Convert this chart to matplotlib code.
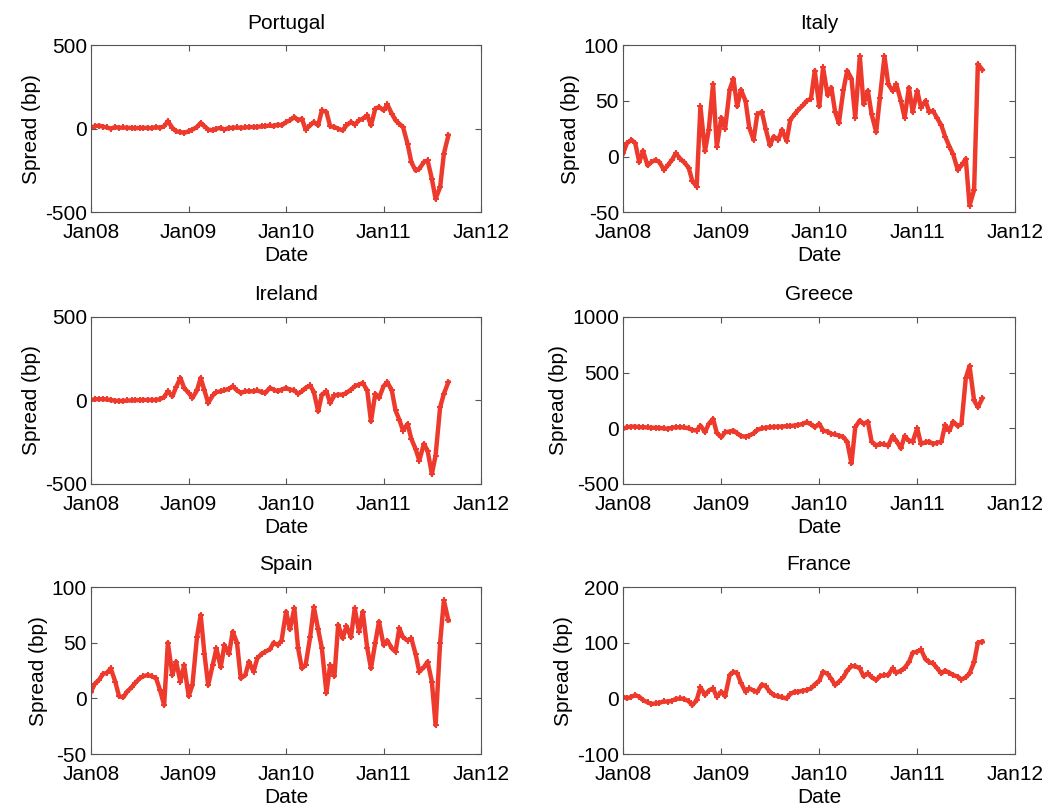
import matplotlib
matplotlib.use('Agg')
import matplotlib.pyplot as plt
import matplotlib.dates as mdates
import pandas as pd

plt.rcParams['font.family'] = ['Liberation Sans', 'DejaVu Sans']
plt.rcParams['axes.unicode_minus'] = False

# semi-monthly observations, Jan 2008 - Sep 2011
dates = pd.date_range('2008-01-01', '2011-09-01', freq='SMS')

portugal = [5, 15, 18, 12, 8, 0, 10, 5, 8, 5, 5, 3, 5, 5, 5, 3, 10, 5, 15, 45,
            5, -15, -20, -25, -15, -5, 10, 35, 15, -5, -10, 0, 5, -5, 5, 5, 8, 5, 8, 10,
            10, 10, 15, 15, 20, 15, 25, 20, 40, 50, 70, 50, 60, -5, 20, 40, 20, 110, 100, 15,
            10, 0, -10, 20, 40, 25, 50, 60, 80, 20, 120, 130, 110, 145, 90, 50, 30, 10, -90, -200,
            -250, -240, -200, -190, -300, -420, -350, -150, -40]

italy = [3, 12, 15, 12, -5, 5, -8, -5, -3, -5, -12, -8, -3, 3, -2, -5, -10, -22, -27, 45,
         5, 24, 65, 9, 35, 25, 60, 70, 45, 60, 50, 26, 15, 38, 40, 25, 10, 18, 15, 24,
         14, 33, 38, 42, 46, 50, 52, 77, 45, 80, 55, 62, 40, 30, 60, 77, 70, 35, 90, 47,
         59, 38, 22, 53, 90, 65, 59, 65, 50, 35, 62, 40, 59, 44, 50, 40, 41, 35, 28, 18,
         9, 2, -12, -8, -2, -44, -30, 83, 78]

ireland = [2, 8, 8, 8, 6, 3, -2, -3, -3, 0, 0, 2, 2, 3, 3, 3, 3, 8, 20, 55,
           25, 80, 135, 75, 45, 15, 60, 135, 60, -15, 30, 50, 55, 62, 70, 85, 60, 45, 55, 55,
           55, 60, 50, 45, 75, 65, 55, 65, 75, 65, 60, 40, 55, 75, 90, 50, -65, 35, 55, -15,
           30, 35, 35, 45, 65, 85, 95, 105, 60, -125, 40, 15, 85, 110, 60, -60, -115, -180, -140, -230,
           -290, -360, -260, -300, -440, -330, -40, 40, 110]

greece = [-5, 10, 15, 15, 10, 10, 8, 5, 5, 3, 0, -5, 5, 10, 10, 8, 0, -15, -20, 25,
          -35, 40, 85, -40, -80, -35, -30, -20, -45, -70, -75, -65, -45, -15, 0, 5, 10, 12, 15, 15,
          20, 20, 25, 30, 40, 55, 35, 10, 40, -20, -30, -50, -55, -65, -80, -120, -315, 10, 70, 40,
          60, -120, -155, -140, -145, -155, -70, -110, -180, -70, -110, -120, 0, -140, -125, -120, -140, -130, -120, 30,
          -20, 60, 20, 40, 450, 560, 250, 190, 270]

spain = [6, 13, 17, 22, 23, 27, 15, 2, 1, 6, 10, 14, 18, 20, 21, 20, 18, 8, -6, 50,
         21, 33, 15, 30, 2, 12, 55, 75, 40, 12, 30, 45, 28, 48, 40, 60, 50, 18, 21, 33,
         24, 36, 40, 42, 44, 50, 48, 52, 78, 62, 81, 45, 27, 30, 55, 82, 62, 45, 5, 30,
         20, 66, 54, 65, 55, 81, 60, 78, 45, 27, 50, 69, 48, 52, 45, 42, 63, 55, 52, 54,
         40, 24, 28, 33, 15, -24, 50, 88, 70]

france = [3, 0, 3, 6, 3, -3, -7, -10, -9, -8, -5, -6, -4, -1, 0, -1, -5, -12, -3, 20,
          6, 14, 18, 3, 12, 4, 42, 48, 45, 28, 12, 18, 14, 12, 25, 22, 12, 6, 4, 2,
          0, 8, 12, 12, 14, 15, 18, 25, 32, 48, 44, 35, 24, 30, 38, 50, 58, 58, 54, 40,
          45, 38, 33, 40, 42, 42, 54, 46, 50, 55, 65, 82, 84, 88, 70, 65, 63, 55, 45, 50,
          46, 42, 39, 34, 38, 45, 65, 100, 102]

countries = ['Portugal', 'Italy', 'Ireland', 'Greece', 'Spain', 'France']
series = [portugal, italy, ireland, greece, spain, france]
yticks = [[-500, 0, 500], [-50, 0, 50, 100], [-500, 0, 500],
          [-500, 0, 500, 1000], [-50, 0, 50, 100], [-100, 0, 100, 200]]
year_ticks = pd.to_datetime(['2008-01-01', '2009-01-01', '2010-01-01', '2011-01-01', '2012-01-01'])

fig = plt.figure(figsize=(10.58, 8.1), dpi=100)
lefts = [0.086, 0.589]
bottoms = [0.738, 0.4025, 0.069]
w = [0.3686, 0.3705]
h = 0.2062

for i, (name, vals, yt) in enumerate(zip(countries, series, yticks)):
    row, col = i // 2, i % 2
    ax = fig.add_axes([lefts[col], bottoms[row], w[col], h])
    ax.plot(dates, vals, color='#ee3a2c', lw=3.2, marker='+', ms=5, mew=1.4)
    ax.set_xlim(year_ticks[0], year_ticks[-1])
    ax.set_xticks(year_ticks)
    ax.xaxis.set_major_formatter(mdates.DateFormatter('%b%y'))
    ax.set_ylim(yt[0], yt[-1])
    ax.set_yticks(yt)
    ax.tick_params(direction='in', top=True, right=True, labelsize=15, length=4,
                   color='#555555')
    ax.tick_params(axis='x', pad=8)
    ax.tick_params(axis='y', pad=3)
    for s in ax.spines.values():
        s.set_color('#555555')
        s.set_linewidth(0.8)
    ax.set_title(name, fontsize=15, pad=12)
    ax.set_xlabel('Date', fontsize=15, labelpad=3)
    ax.set_ylabel('Spread (bp)', fontsize=15, labelpad=3)

fig.savefig('out.png', dpi=100)
